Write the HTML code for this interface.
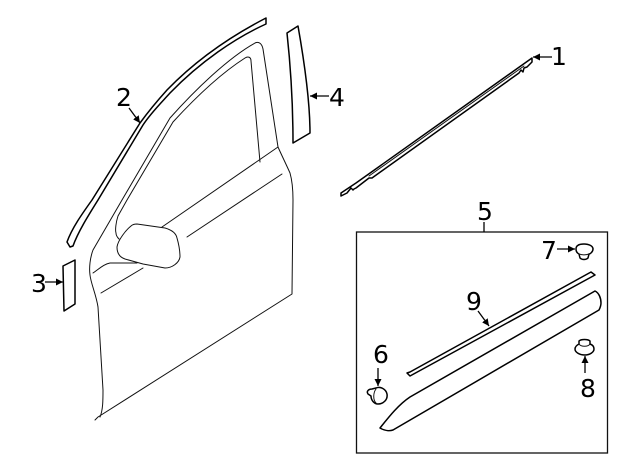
<!DOCTYPE html>
<html>
<head>
<meta charset="utf-8">
<style>
html,body{margin:0;padding:0;background:#fff;width:640px;height:471px;overflow:hidden}
svg{display:block}
text{font-family:"DejaVu Sans","Liberation Sans",sans-serif;font-size:25px;fill:#000;text-anchor:middle}
.t{fill:none;stroke:#111;stroke-width:1;stroke-linejoin:round;stroke-linecap:round}
.m{fill:none;stroke:#000;stroke-width:1.5;stroke-linejoin:round;stroke-linecap:round}
.a{stroke:#000;stroke-width:1.3;fill:none}
</style>
</head>
<body>
<svg width="640" height="471" viewBox="0 0 640 471" xmlns="http://www.w3.org/2000/svg">
<defs>
<marker id="h" markerUnits="userSpaceOnUse" markerWidth="8" markerHeight="8" refX="7" refY="4" orient="auto">
<path d="M0,0.5 L7,4 L0,7.5 Z" fill="#000"/>
</marker>
</defs>

<!-- part 2 -->
<path class="m" d="M266,18 L266,24 C235,38 200,62 170,93 C160,104 150,114 143,125 L98,200 C88,216 78,232 73,246 L70,247 L67,242 C72,228 82,214 92,200 L140,123 C148,112 158,100 167,90 C198,58 235,34 266,18 Z"/>

<!-- door outer -->
<path class="t" d="M95,420 L98,417 L292,294 L293,200 C293,188 292,180 290,173 C286,164 282,156 278,147 L263,49 C262,44 259,41 255,43 C228,58 195,90 170,118 L122,200 L93,250 C90,258 89,268 90,275 C91,284 96,294 98,307 L103,390 C103,400 103,410 100,417"/>
<!-- window inner -->
<path class="t" d="M260,162 L251,61 C251,57 248,56 245,58 C220,74 195,98 173,122 L127,200 L118,216 C116,222 115,230 116,233 C116,236 118,238 119,239"/>
<path class="t" d="M278,147 L162,227"/>
<path class="t" d="M282,174 L187,237"/>
<!-- mirror -->
<path class="t" d="M137,224 L165,228 C172,230 176,233 177,238 C179,245 180,252 180,257 C179,263 172,268 165,268 L143,264 L125,259 C119,257 117,252 117,247 C118,240 126,230 131,226 C133,224 135,224 137,224 Z"/>
<path class="t" d="M93,273 C99,269 104,264 110,263 L137,263"/>
<path class="t" d="M101,293 L143,268"/>

<!-- part 3 -->
<path class="m" d="M63,266 L75,260 L75,304 L64,311 Z"/>
<!-- part 4 -->
<path class="m" d="M287,33 L298,26 C304,60 310,100 310,133 L293,143 C293,105 291,70 287,33 Z"/>

<!-- part 1 -->
<path class="m" stroke-width="1.2" d="M341,193 L356,183 L532,58 L532,62 L527,67 L524,68 L523,72 L521,70 L519,73 L372,178 L369,178 L356,188 L354,189 L353,190 L351,188 L347,193 L341,196 Z"/>
<path class="t" stroke-width="0.8" d="M369,176 L524,66"/>

<!-- box -->
<rect x="356.5" y="232" width="251" height="221" fill="none" stroke="#111" stroke-width="1.3"/>
<path class="a" d="M484,222 L484,232"/>

<!-- part 9 -->
<path class="m" d="M407,373 L410,372 L591,272 L595,275 L410,376 Z"/>
<!-- molding -->
<path class="m" d="M380,428 C388,418 398,405 410,397 L595,291 C599,293 601,298 601,303 C601,306 600,308 599,310 L393,430 C390,431 385,431 380,428 Z"/>

<!-- clip 7 -->
<path class="m" d="M576,249 C576,245 580,244 584,244 C589,244 593,246 593,249 C593,252 590,254 589,254 L588,258 C586,260 582,260 580,258 L579,254 C577,253 576,251 576,249 Z" stroke-width="1.2"/>
<path class="t" d="M579,254 C582,255 586,255 589,254"/>

<!-- clip 8 -->
<path class="m" d="M579,341 C581,339 588,339 590,341 L590,344 C593,345 594,347 594,349 C594,352 590,355 585,355 C579,355 575,352 575,349 C575,347 577,345 579,344 Z" stroke-width="1.2"/>
<path class="t" d="M579,344 C581,347 588,347 590,344"/>

<!-- clip 6 -->
<path class="m" d="M372,389 L376,388 C380,386 386,389 387,394 C388,400 383,404 378,404 C374,404 371,400 371,396 L368,394 C366,391 369,389 372,389 Z" stroke-width="1.2"/>
<path class="t" d="M376,389 C373,393 373,400 376,403"/>

<!-- arrows -->
<path class="a" marker-end="url(#h)" d="M552,57 L533,57"/>
<path class="a" marker-end="url(#h)" d="M129,108 L140,123"/>
<path class="a" marker-end="url(#h)" d="M45,282 L63,282"/>
<path class="a" marker-end="url(#h)" d="M329,96 L310,96"/>
<path class="a" marker-end="url(#h)" d="M378,368 L378,386"/>
<path class="a" marker-end="url(#h)" d="M557,249 L575,249"/>
<path class="a" marker-end="url(#h)" d="M585,373 L585,356"/>
<path class="a" marker-end="url(#h)" d="M478,311 L489,326"/>

<!-- labels -->
<text x="559" y="65">1</text>
<text x="124" y="106">2</text>
<text x="39" y="292">3</text>
<text x="337" y="106">4</text>
<text x="485" y="220">5</text>
<text x="381" y="363">6</text>
<text x="549" y="259">7</text>
<text x="588" y="397">8</text>
<text x="474" y="310">9</text>
</svg>
</body>
</html>
